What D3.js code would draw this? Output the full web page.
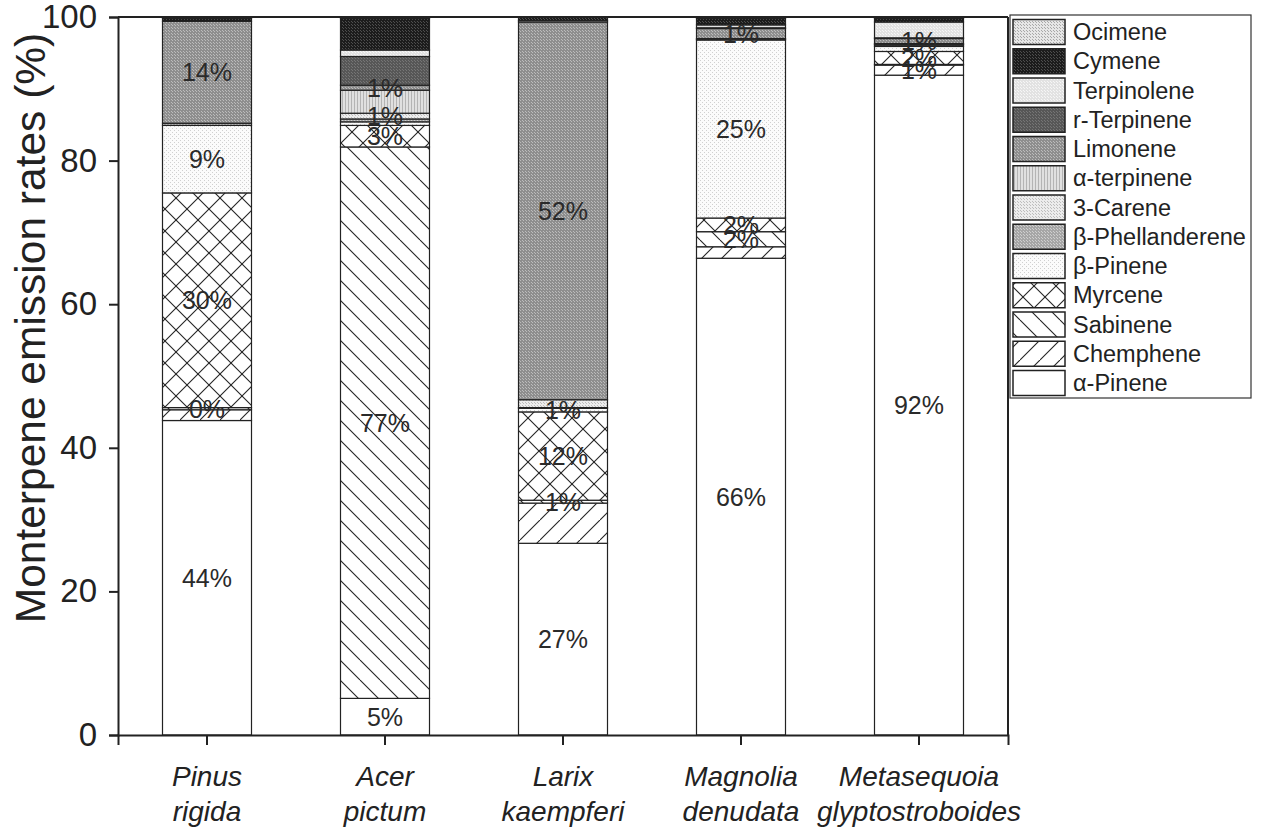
<!DOCTYPE html>
<html>
<head>
<meta charset="utf-8">
<script src="https://cdn.jsdelivr.net/npm/d3@7"></script>
<style>
  html, body { margin: 0; padding: 0; background: #fff; }
  svg { display: block; font-family: "Liberation Sans", Arial, sans-serif; }
</style>
</head>
<body>
<svg id="chart" width="1261" height="831"></svg>
<script>
// ---- DATA ----
const categories = ["Pinus rigida", "Acer pictum", "Larix kaempferi", "Magnolia denudata", "Metasequoia glyptostroboides"];
const catLine1 = ["Pinus", "Acer", "Larix", "Magnolia", "Metasequoia"];
const catLine2 = ["rigida", "pictum", "kaempferi", "denudata", "glyptostroboides"];
const yTicks = [0, 20, 40, 60, 80, 100];

// stacking order bottom -> top
const seriesNames = ["α-Pinene", "Chemphene", "Sabinene", "Myrcene", "β-Pinene", "β-Phellanderene",
  "3-Carene", "α-terpinene", "Limonene", "r-Terpinene", "Terpinolene", "Cymene", "Ocimene"];

const aPinene     = [43.8,  5.1, 26.7, 66.4, 91.9];
const chemphene   = [ 1.5,  0.0,  5.6,  1.6,  1.4];
const sabinene    = [ 0.3, 76.8,  0.4,  2.1,  0.1];
const myrcene     = [29.9,  3.0, 12.3,  1.9,  1.8];
const bPinene     = [ 9.4,  0.5,  0.5, 24.8,  0.7];
const bPhell      = [ 0.3,  0.4,  0.1,  0.1,  0.2];
const carene      = [ 0.0,  0.8,  1.1,  0.1,  0.1];
const aTerpinene  = [ 0.0,  3.2,  0.0,  0.0,  0.1];
const limonene    = [14.2,  0.7, 52.6,  1.4,  0.7];
const rTerpinene  = [ 0.0,  4.0,  0.0,  0.1,  0.1];
const terpinolene = [ 0.0,  0.9,  0.2,  0.4,  2.2];
const cymene      = [ 0.4,  4.4,  0.5,  0.9,  0.5];
const ocimene     = [ 0.2,  0.2,  0.0,  0.2,  0.2];

// percentage labels shown in the picture (per series, per category)
const aPineneLbl  = ["44%", "5%", "27%", "66%", "92%"];
const chemLbl     = ["", "", "", "", "1%"];
const sabLbl      = ["0%", "77%", "1%", "2%", ""];
const myrLbl      = ["30%", "3%", "12%", "2%", "2%"];
const bPinLbl     = ["9%", "", "1%", "25%", ""];
const careneLbl   = ["", "1%", "", "", ""];
const limLbl      = ["14%", "1%", "52%", "1%", "1%"];
const emptyLbl    = ["", "", "", "", ""];

const seriesValues = [aPinene, chemphene, sabinene, myrcene, bPinene, bPhell, carene, aTerpinene,
  limonene, rTerpinene, terpinolene, cymene, ocimene];
const seriesLabels = [aPineneLbl, chemLbl, sabLbl, myrLbl, bPinLbl, emptyLbl, careneLbl, emptyLbl,
  limLbl, emptyLbl, emptyLbl, emptyLbl, emptyLbl];
const patternIds = ["pAPinene", "pChem", "pSab", "pMyr", "pBPin", "pBPhell", "pCarene", "pATerp",
  "pLim", "pRTerp", "pTerpinolene", "pCymene", "pOcimene"];

(function () {
// ---- LAYOUT ----
const svg = d3.select("#chart");
const pL = 118, pR = 1008, pT = 17, pB = 735;

const x = d3.scaleBand().domain(categories).range([pL, pR]).paddingInner(0.5).paddingOuter(0.25);
const y = d3.scaleLinear().domain([0, 100]).range([pB, pT]);

// ---- PATTERNS ----
const defs = svg.append("defs");
function dotPattern(id, bg, dot, size, dotSize) {
  const p = defs.append("pattern").attr("id", id).attr("patternUnits", "userSpaceOnUse")
    .attr("width", size).attr("height", size);
  p.append("rect").attr("width", size).attr("height", size).attr("fill", bg);
  p.append("rect").attr("x", 0).attr("y", 0).attr("width", dotSize).attr("height", dotSize).attr("fill", dot);
  p.append("rect").attr("x", Math.floor(size / 2)).attr("y", Math.floor(size / 2)).attr("width", dotSize).attr("height", dotSize).attr("fill", dot);
  return p;
}
function linePattern(id, size, dirs) {
  const p = defs.append("pattern").attr("id", id).attr("patternUnits", "userSpaceOnUse")
    .attr("width", size).attr("height", size);
  p.append("rect").attr("width", size).attr("height", size).attr("fill", "#fff");
  dirs.forEach(d => {
    if (d === "/") {
      p.append("line").attr("x1", 0).attr("y1", size).attr("x2", size).attr("y2", 0);
      p.append("line").attr("x1", -size).attr("y1", size).attr("x2", 0).attr("y2", 0);
      p.append("line").attr("x1", size).attr("y1", 2 * size).attr("x2", 2 * size).attr("y2", size);
    } else {
      p.append("line").attr("x1", 0).attr("y1", 0).attr("x2", size).attr("y2", size);
      p.append("line").attr("x1", -size).attr("y1", 0).attr("x2", 0).attr("y2", size);
      p.append("line").attr("x1", size).attr("y1", 0).attr("x2", 2 * size).attr("y2", size);
    }
  });
  p.selectAll("line").attr("stroke", "#222").attr("stroke-width", 1.1);
  return p;
}
defs.append("pattern").attr("id", "pAPinene").attr("patternUnits", "userSpaceOnUse")
  .attr("width", 4).attr("height", 4).append("rect").attr("width", 4).attr("height", 4).attr("fill", "#fff");
linePattern("pChem", 20, ["/"]);
linePattern("pSab", 20, ["\\"]);
linePattern("pMyr", 22, ["/", "\\"]);
dotPattern("pBPin", "#fbfbfb", "#d0d0d0", 4, 1);
dotPattern("pBPhell", "#a6a6a6", "#cfcfcf", 3, 1);
dotPattern("pCarene", "#ececec", "#bdbdbd", 3, 1);
(function () {
  const p = defs.append("pattern").attr("id", "pATerp").attr("patternUnits", "userSpaceOnUse")
    .attr("width", 3).attr("height", 3);
  p.append("rect").attr("width", 3).attr("height", 3).attr("fill", "#e0e0e0");
  p.append("rect").attr("x", 0).attr("y", 0).attr("width", 1).attr("height", 3).attr("fill", "#b4b4b4");
})();
dotPattern("pLim", "#8e8e8e", "#bcbcbc", 3, 1);
dotPattern("pRTerp", "#575757", "#767676", 3, 1);
dotPattern("pTerpinolene", "#e2e2e2", "#f6f6f6", 3, 1);
dotPattern("pCymene", "#1c1c1c", "#4e4e4e", 3, 1);
dotPattern("pOcimene", "#e6e6e6", "#a8a8a8", 3, 1);

// ---- STACK ----
const stacked = seriesValues.map((vals, si) => vals.map((v, ci) => {
  let base = 0;
  for (let k = 0; k < si; k++) base += seriesValues[k][ci];
  return { si, ci, y0: base, y1: base + v, v, label: seriesLabels[si][ci] };
}));

const barsG = svg.append("g");
stacked.forEach((rows, si) => {
  barsG.append("g").selectAll("rect").data(rows.filter(d => d.v > 0)).join("rect")
    .attr("x", d => x(categories[d.ci]))
    .attr("width", x.bandwidth())
    .attr("y", d => y(d.y1))
    .attr("height", d => y(d.y0) - y(d.y1))
    .attr("fill", `url(#${patternIds[si]})`)
    .attr("stroke", "#222")
    .attr("stroke-width", 1.2);
});

// labels
const labelG = svg.append("g");
stacked.forEach(rows => {
  labelG.append("g").selectAll("text").data(rows.filter(d => d.label)).join("text")
    .attr("x", d => x(categories[d.ci]) + x.bandwidth() / 2)
    .attr("y", d => y((d.y0 + d.y1) / 2))
    .attr("text-anchor", "middle")
    .attr("dominant-baseline", "central")
    .attr("font-size", 25)
    .attr("fill", "#2a2a2a")
    .text(d => d.label);
});

// ---- AXES ----
const yAxis = svg.append("g").attr("transform", `translate(${pL},0)`)
  .call(d3.axisLeft(y).tickValues(yTicks).tickSize(9).tickPadding(12));
yAxis.select(".domain").attr("stroke", "#222").attr("stroke-width", 2);
yAxis.selectAll(".tick line").attr("stroke", "#222").attr("stroke-width", 2);
yAxis.selectAll(".tick text").attr("font-size", 33).attr("fill", "#222")
  .attr("font-family", "'Liberation Sans', Arial, sans-serif");

const xAxis = svg.append("g").attr("transform", `translate(0,${pB})`)
  .call(d3.axisBottom(x).tickSize(10).tickFormat(""));
xAxis.select(".domain").attr("stroke", "#222").attr("stroke-width", 2);
xAxis.selectAll(".tick line").attr("stroke", "#222").attr("stroke-width", 2);

const xl = svg.append("g");
categories.forEach((c, i) => {
  const cx = x(c) + x.bandwidth() / 2;
  const t = xl.append("text")
    .attr("text-anchor", "middle")
    .attr("font-size", 28)
    .attr("font-style", "italic")
    .attr("fill", "#222");
  t.append("tspan").attr("x", cx).attr("y", 786).text(catLine1[i]);
  t.append("tspan").attr("x", cx).attr("y", 821).text(catLine2[i]);
});

// frame: top and right
svg.append("line").attr("x1", pL).attr("x2", pR).attr("y1", pT).attr("y2", pT)
  .attr("stroke", "#222").attr("stroke-width", 2);
svg.append("line").attr("x1", pR).attr("x2", pR).attr("y1", pT).attr("y2", pB)
  .attr("stroke", "#222").attr("stroke-width", 2);

// y title
svg.append("text")
  .attr("transform", `translate(30,328) rotate(-90)`)
  .attr("text-anchor", "middle")
  .attr("dominant-baseline", "central")
  .attr("font-size", 42.5)
  .attr("fill", "#222")
  .text("Monterpene emission rates (%)");

// ---- LEGEND ----
const legendOrder = d3.range(seriesNames.length).reverse();
const lg = svg.append("g");
lg.append("rect").attr("x", 1010).attr("y", 15).attr("width", 241).attr("height", 383)
  .attr("fill", "#fff").attr("stroke", "#333").attr("stroke-width", 1.2);
legendOrder.forEach((si, k) => {
  const cy = 32 + k * 29.25;
  lg.append("rect").attr("x", 1013).attr("y", cy - 12.5).attr("width", 52).attr("height", 25)
    .attr("fill", `url(#${patternIds[si]})`).attr("stroke", "#222").attr("stroke-width", 1.5);
  lg.append("text").attr("x", 1073).attr("y", cy).attr("dominant-baseline", "central")
    .attr("font-size", 23.5).attr("fill", "#222").text(seriesNames[si]);
});
})();
</script>
</body>
</html>
